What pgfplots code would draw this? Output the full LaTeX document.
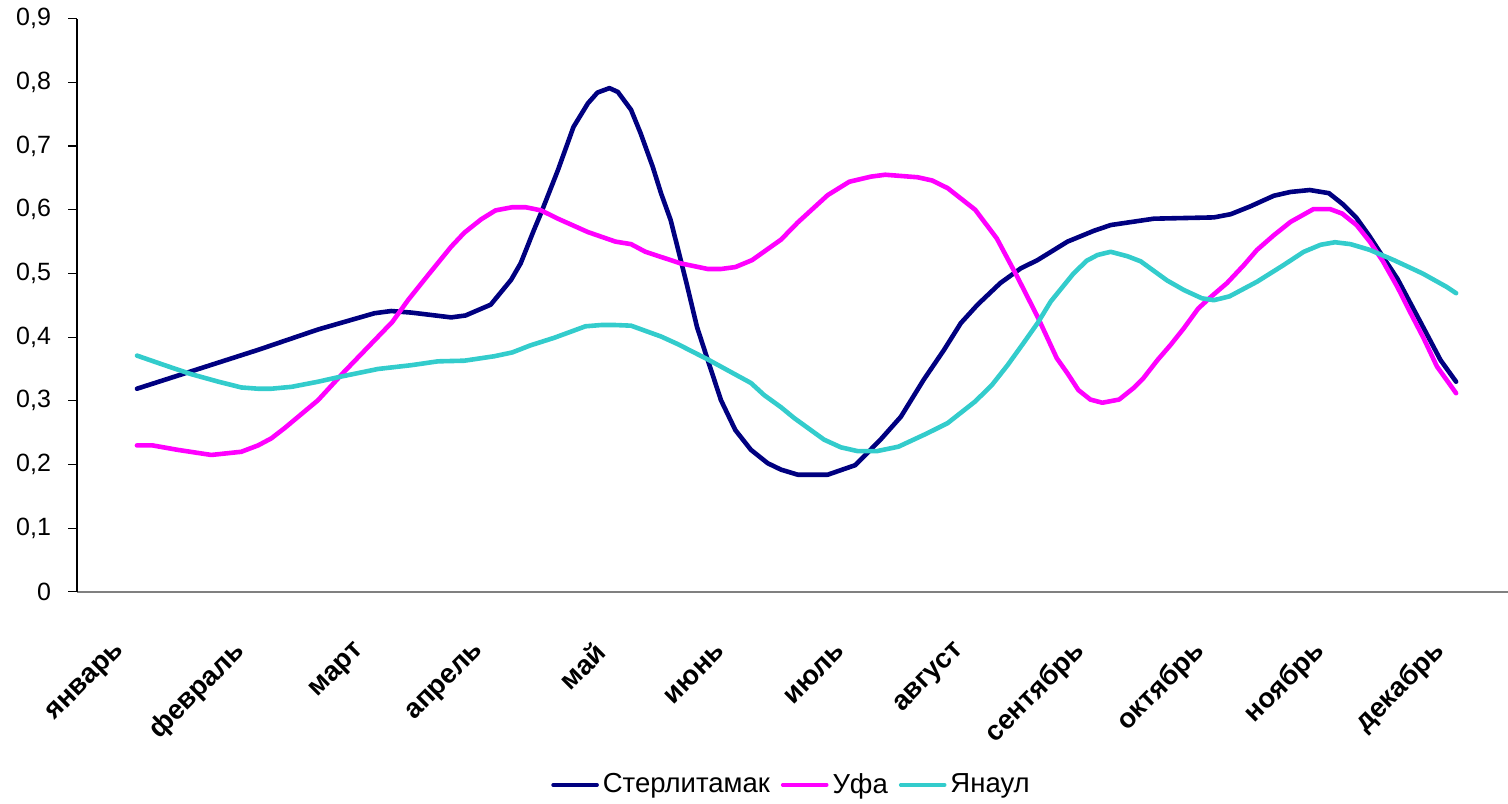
\documentclass[border=0pt]{standalone}
\usepackage{pgfplots}
\pgfplotsset{compat=1.18}
\usepackage{fontspec}
\setmainfont{Liberation Sans}
\usetikzlibrary{calc}

\definecolor{sterl}{HTML}{000080}
\definecolor{ufa}{HTML}{FF00FF}
\definecolor{yanaul}{HTML}{33CCCC}

\begin{document}
\begin{tikzpicture}
\begin{axis}[
  name=ax,
  scale only axis,
  width=715.5pt, height=286.6pt,
  xmin=-0.5, xmax=11.433,
  ymin=0, ymax=0.9,
  axis x line=bottom, axis y line=left,
  x axis line style={-, draw=gray, line width=1pt},
  y axis line style={-, draw=black, line width=0.6pt},
  tick align=outside,
  xtick={0,...,11},
  xticklabels={январь,февраль,март,апрель,май,июнь,июль,август,сентябрь,октябрь,ноябрь,декабрь},
  xtick style={draw=none},
  xticklabel style={font=\bfseries\fontsize{13.75}{16}\selectfont, yshift=-21pt, xshift=-5.5pt, rotate=45, anchor=east},
  extra x ticks={-0.5,0.5,...,10.5},
  extra x tick labels={},
  extra x tick style={tick style={draw=black, line width=0.7pt}, major tick length=4.5pt},
  ytick={0,0.1,...,0.9},
  ytick style={draw=black, line width=0.6pt},
  major tick length=4.5pt,
  yticklabel style={font=\fontsize{12.5}{14}\selectfont, /pgf/number format/assume math mode=true},
  yticklabel shift=5pt,
  /pgf/number format/.cd, use comma, fixed, precision=1,
  /pgfplots/.cd,
  legend columns=3,
  legend style={draw=none, fill=none, font=\fontsize{13.75}{16}\selectfont,
    at={(0.5,0)}, anchor=center, yshift=-96.5pt,
    /tikz/every even column/.append style={column sep=3.5pt}},
  legend image code/.code={\draw[#1, line width=1.8pt] (0pt,0pt) -- (22pt,0pt);},
  every axis plot/.append style={line width=2.3pt, line join=round, line cap=round},
]
% Стерлитамак
\addplot[color=sterl] coordinates {
(0.00,0.319) (1.01,0.380) (1.51,0.412) (1.98,0.4375) (2.12,0.441) (2.29,0.4385)
(2.62,0.431) (2.74,0.434) (2.95,0.451) (3.12,0.490) (3.20,0.516) (3.31,0.568)
(3.37,0.595) (3.51,0.662) (3.64,0.730) (3.76,0.767) (3.84,0.784) (3.94,0.791)
(4.01,0.785) (4.12,0.757) (4.20,0.720) (4.30,0.668) (4.37,0.626) (4.45,0.584)
(4.52,0.532) (4.59,0.479) (4.67,0.416) (4.76,0.364) (4.87,0.301) (4.99,0.254)
(5.12,0.223) (5.26,0.202) (5.37,0.192) (5.51,0.184) (5.76,0.184) (5.99,0.199)
(6.20,0.239) (6.37,0.275) (6.56,0.333) (6.73,0.380) (6.87,0.422) (7.01,0.451)
(7.20,0.485) (7.37,0.508) (7.51,0.521) (7.76,0.550) (7.98,0.567) (8.12,0.576)
(8.48,0.586) (8.98,0.588) (9.12,0.593) (9.28,0.605) (9.48,0.622) (9.62,0.628)
(9.78,0.631) (9.94,0.626) (10.06,0.608) (10.17,0.587) (10.28,0.558) (10.39,0.526)
(10.51,0.492) (10.62,0.453) (10.73,0.414) (10.87,0.364) (11.00,0.330)
};
\addlegendentry{Стерлитамак}
% Уфа
\addplot[color=ufa] coordinates {
(0.00,0.230) (0.13,0.230) (0.34,0.223) (0.62,0.215) (0.87,0.220) (1.01,0.230)
(1.12,0.241) (1.23,0.257) (1.51,0.301) (1.73,0.346) (1.93,0.385) (2.13,0.424)
(2.26,0.458) (2.43,0.498) (2.62,0.542) (2.73,0.564) (2.87,0.585) (2.99,0.599)
(3.13,0.604) (3.24,0.604) (3.37,0.599) (3.51,0.586) (3.76,0.565) (3.99,0.550)
(4.12,0.546) (4.24,0.534) (4.53,0.516) (4.76,0.507) (4.87,0.507) (4.99,0.510)
(5.13,0.521) (5.37,0.553) (5.51,0.580) (5.76,0.623) (5.94,0.644) (6.12,0.652)
(6.24,0.655) (6.51,0.651) (6.63,0.646) (6.76,0.634) (6.99,0.600) (7.17,0.555)
(7.34,0.495) (7.51,0.432) (7.67,0.367) (7.76,0.343) (7.85,0.317) (7.95,0.302)
(8.05,0.297) (8.19,0.302) (8.31,0.320) (8.39,0.335) (8.51,0.364) (8.62,0.388)
(8.73,0.414) (8.85,0.445) (8.96,0.464) (9.09,0.485) (9.23,0.513) (9.34,0.537)
(9.48,0.560) (9.62,0.581) (9.81,0.601) (9.95,0.601) (10.05,0.594) (10.17,0.576)
(10.28,0.550) (10.39,0.519) (10.51,0.479) (10.62,0.438) (10.73,0.398) (10.84,0.354)
(11.00,0.312)
};
\addlegendentry{Уфа}
% Янаул
\addplot[color=yanaul] coordinates {
(0.00,0.371) (0.23,0.356) (0.45,0.342) (0.68,0.330) (0.87,0.321) (1.01,0.319)
(1.12,0.319) (1.29,0.322) (1.51,0.330) (1.70,0.338) (2.01,0.350) (2.29,0.356)
(2.51,0.362) (2.73,0.363) (2.98,0.370) (3.13,0.376) (3.28,0.387) (3.48,0.399)
(3.74,0.417) (3.87,0.419) (3.99,0.419) (4.12,0.418) (4.37,0.401) (4.51,0.389)
(4.76,0.365) (5.12,0.328) (5.23,0.309) (5.37,0.290) (5.48,0.273) (5.73,0.239)
(5.87,0.227) (6.01,0.221) (6.17,0.221) (6.35,0.228) (6.59,0.249) (6.76,0.265)
(6.99,0.299) (7.13,0.325) (7.26,0.356) (7.39,0.390) (7.51,0.422) (7.62,0.456)
(7.81,0.500) (7.92,0.520) (8.01,0.529) (8.12,0.534) (8.26,0.527) (8.37,0.519)
(8.59,0.489) (8.73,0.474) (8.88,0.461) (8.98,0.458) (9.11,0.464) (9.34,0.487)
(9.56,0.513) (9.73,0.534) (9.87,0.545) (9.99,0.549) (10.12,0.546) (10.28,0.537)
(10.48,0.521) (10.72,0.500) (10.92,0.479) (11.00,0.469)
};
\addlegendentry{Янаул}
\end{axis}
\pgfresetboundingbox
\path ($(ax.south west)+(-38.5pt,-106pt)$) rectangle ($(ax.north east)+(0pt,9.35pt)$);
\end{tikzpicture}
\end{document}
